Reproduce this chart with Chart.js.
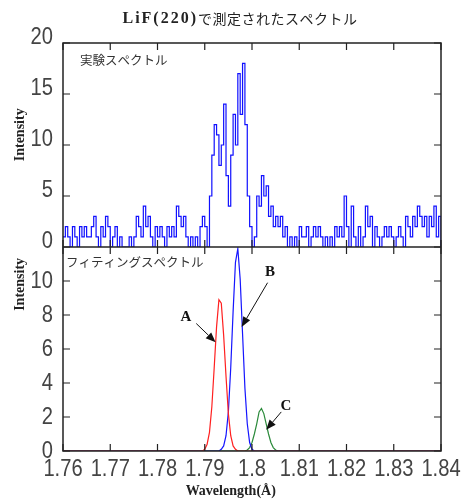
<!DOCTYPE html>
<html>
<head>
<meta charset="utf-8">
<script src="https://cdn.jsdelivr.net/npm/chart.js@4"></script>
<style>
html, body { margin: 0; padding: 0; background: #fff; }
</style>
</head>
<body>
<canvas id="chart" width="462" height="502"></canvas>
<script>
// measured spectrum, one count value every 0.0005 A starting at 1.76
var expStart = 1.76;
var expStep = 0.0005;
var expCounts = [
    1, 2, 1, 0, 2, 1, 0, 2, 1, 2,
    1, 1, 2, 3, 1, 0, 2, 1, 3, 2,
    0, 1, 2, 0, 1, 0, 0, 0, 1, 0,
    1, 3, 2, 1, 4, 2, 3, 1, 0, 2,
    1, 2, 1, 0, 2, 1, 2, 1, 4, 3,
    2, 3, 1, 0, 1, 0, 1, 0, 2, 3,
    2, 0, 5, 9, 12, 11, 8, 10, 14, 7,
    4, 9, 13, 10, 17, 13, 18, 12, 5, 2,
    0, 1, 5, 4, 7, 5, 6, 3, 4, 2,
    3, 2, 3, 1, 2, 0, 1, 0, 1, 0,
    2, 1, 1, 2, 0, 1, 2, 1, 2, 1,
    0, 1, 0, 1, 0, 2, 1, 2, 1, 5,
    2, 0, 4, 1, 0, 2, 0, 1, 4, 2,
    3, 0, 2, 1, 0, 1, 2, 1, 2, 1,
    0, 1, 2, 1, 0, 3, 2, 1, 3, 2,
    4, 3, 2, 3, 1, 3, 2, 4, 1, 3,
    0
];

// fitted peaks A, B, C
var fitX = [1.76,
    1.789, 1.7895, 1.79, 1.7905, 1.791, 1.7915, 1.792, 1.7925, 1.793, 1.7935,
    1.794, 1.7945, 1.795, 1.7955, 1.796, 1.7965, 1.797, 1.7975, 1.798, 1.7985,
    1.799, 1.7995, 1.8, 1.8005, 1.801, 1.8015, 1.802, 1.8025, 1.803, 1.8035,
    1.804, 1.8045, 1.805, 1.8055, 1.806,
    1.84];
var fitA = [0,
    0, 0, 0.1, 0.4, 1.1, 2.6, 4.9, 7.3, 8.9, 8.7,
    6.8, 4.4, 2.2, 0.9, 0.3, 0.1, 0, 0, 0, 0,
    0, 0, 0, 0, 0, 0, 0, 0, 0, 0,
    0, 0, 0, 0, 0,
    0];
var fitB = [0,
    0, 0, 0, 0, 0, 0, 0, 0, 0, 0.1,
    0.3, 0.9, 2.3, 4.9, 8.2, 11.1, 11.9, 10.1, 6.9, 3.7,
    1.6, 0.5, 0.1, 0, 0, 0, 0, 0, 0, 0,
    0, 0, 0, 0, 0,
    0];
var fitC = [0,
    0, 0, 0, 0, 0, 0, 0, 0, 0, 0,
    0, 0, 0, 0, 0, 0, 0, 0, 0, 0,
    0.06, 0.2, 0.5, 1.0, 1.6, 2.3, 2.5, 2.2, 1.6, 1.0,
    0.5, 0.2, 0.06, 0, 0,
    0];

var xTickValues = [1.76, 1.77, 1.78, 1.79, 1.8, 1.81, 1.82, 1.83, 1.84];
var xTickLabels = ['1.76', '1.77', '1.78', '1.79', '1.8', '1.81', '1.82', '1.83', '1.84'];
var topTickValues = [0, 5, 10, 15, 20];
var bottomTickValues = [0, 2, 4, 6, 8, 10, 12];
var bottomTickLabels = ['0', '2', '4', '6', '8', '10', ''];

var numFont = "'Liberation Sans', Arial, sans-serif";
var serif = "'Liberation Serif', 'DejaVu Serif', serif";
var jpFont = "'Noto Sans CJK JP', sans-serif";

function toPoints(xs, ys) {
    return ys.map(function (v, i) { return { x: xs[i], y: v }; });
}

var expPoints = expCounts.map(function (v, i) {
    return { x: expStart + i * expStep, y: v };
});

function setTicks(values) {
    return function (scale) {
        scale.ticks = values.map(function (v) { return { value: v }; });
    };
}

function drawArrow(ctx, x0, y0, x1, y1) {
    var ang = Math.atan2(y1 - y0, x1 - x0);
    var len = 10, half = 4;
    var bx = x1 - len * Math.cos(ang), by = y1 - len * Math.sin(ang);
    ctx.beginPath();
    ctx.moveTo(x0, y0);
    ctx.lineTo(bx, by);
    ctx.stroke();
    ctx.beginPath();
    ctx.moveTo(x1, y1);
    ctx.lineTo(bx + half * Math.sin(ang), by - half * Math.cos(ang));
    ctx.lineTo(bx - half * Math.sin(ang), by + half * Math.cos(ang));
    ctx.closePath();
    ctx.fill();
}

// narrow tick numbers (the original uses a condensed face)
function narrowText(ctx, text, x, y, align) {
    ctx.save();
    ctx.translate(x, y);
    ctx.scale(0.84, 1);
    ctx.textAlign = align;
    ctx.fillText(text, 0, 0);
    ctx.restore();
}

// labels A/B/C with arrow tail and tip, in data units of the lower panel
var peakNotes = [
    { text: 'A', at: [1.7860, 7.9], tail: [1.7882, 7.5], tip: [1.7923, 6.4] },
    { text: 'B', at: [1.8038, 10.5], tail: [1.8033, 9.9], tip: [1.7978, 7.3] },
    { text: 'C', at: [1.8072, 2.65], tail: [1.8062, 2.3], tip: [1.8030, 1.25] }
];

var framePlugin = {
    id: 'frame',
    afterDraw: function (chart) {
        var ctx = chart.ctx;
        var a = chart.chartArea;
        var sx = chart.scales.x, yT = chart.scales.yTop, yB = chart.scales.yBot;
        var mid = yB.top;
        var tl = 7;
        ctx.save();
        ctx.strokeStyle = '#222';
        ctx.lineWidth = 1.5;
        ctx.strokeRect(a.left, a.top, a.right - a.left, a.bottom - a.top);
        ctx.beginPath();
        ctx.moveTo(a.left, mid);
        ctx.lineTo(a.right, mid);
        ctx.stroke();

        // inward ticks
        ctx.lineWidth = 1.2;
        ctx.beginPath();
        xTickValues.forEach(function (v) {
            var px = sx.getPixelForValue(v);
            ctx.moveTo(px, a.top); ctx.lineTo(px, a.top + tl);
            ctx.moveTo(px, mid); ctx.lineTo(px, mid - tl);
            ctx.moveTo(px, mid); ctx.lineTo(px, mid + tl);
            ctx.moveTo(px, a.bottom); ctx.lineTo(px, a.bottom - tl);
        });
        topTickValues.forEach(function (v) {
            var py = yT.getPixelForValue(v);
            ctx.moveTo(a.left, py); ctx.lineTo(a.left + tl, py);
            ctx.moveTo(a.right, py); ctx.lineTo(a.right - tl, py);
        });
        bottomTickValues.forEach(function (v) {
            var py = yB.getPixelForValue(v);
            ctx.moveTo(a.left, py); ctx.lineTo(a.left + tl, py);
            ctx.moveTo(a.right, py); ctx.lineTo(a.right - tl, py);
        });
        ctx.stroke();

        // tick numbers
        ctx.fillStyle = '#444';
        ctx.font = '24px ' + numFont;
        ctx.textBaseline = 'middle';
        xTickValues.forEach(function (v, i) {
            narrowText(ctx, xTickLabels[i], sx.getPixelForValue(v), a.bottom + 18, 'center');
        });
        topTickValues.forEach(function (v) {
            narrowText(ctx, String(v), a.left - 10, yT.getPixelForValue(v) - 6, 'right');
        });
        bottomTickValues.forEach(function (v, i) {
            narrowText(ctx, bottomTickLabels[i], a.left - 10, yB.getPixelForValue(v), 'right');
        });

        // title
        var t1 = 'LiF(220)', t2 = 'で測定されたスペクトル';
        ctx.fillStyle = '#222';
        ctx.textAlign = 'left';
        ctx.font = 'bold 16px ' + serif;
        ctx.letterSpacing = '2px';
        var w1 = ctx.measureText(t1).width;
        ctx.font = '14px ' + jpFont;
        ctx.letterSpacing = '0.5px';
        var w2 = ctx.measureText(t2).width;
        var tx = 240 - (w1 + w2) / 2;
        ctx.font = 'bold 16px ' + serif;
        ctx.letterSpacing = '2px';
        ctx.fillText(t1, tx, 19);
        ctx.font = '14px ' + jpFont;
        ctx.letterSpacing = '0.5px';
        ctx.fillText(t2, tx + w1, 19);
        ctx.letterSpacing = '0px';

        // panel captions
        ctx.font = '12.5px ' + jpFont;
        ctx.fillStyle = '#333';
        ctx.fillText('実験スペクトル', a.left + 17, yT.top + 17);
        ctx.fillText('フィティングスペクトル', a.left + 3, mid + 15);

        // axis titles
        ctx.fillStyle = '#222';
        ctx.font = 'bold 14px ' + serif;
        ctx.textAlign = 'center';
        ctx.save();
        ctx.translate(20, yT.getPixelForValue(11));
        ctx.rotate(-Math.PI / 2);
        ctx.fillText('Intensity', 0, 0);
        ctx.restore();
        ctx.save();
        ctx.translate(20, yB.getPixelForValue(9.8));
        ctx.rotate(-Math.PI / 2);
        ctx.fillText('Intensity', 0, 0);
        ctx.restore();
        ctx.fillText('Wavelength(Å)', sx.getPixelForValue(1.7955), 491);

        // peak labels and arrows
        ctx.font = 'bold 15px ' + serif;
        ctx.fillStyle = '#111';
        ctx.strokeStyle = '#111';
        ctx.lineWidth = 1;
        peakNotes.forEach(function (n) {
            ctx.fillText(n.text, sx.getPixelForValue(n.at[0]), yB.getPixelForValue(n.at[1]));
            drawArrow(ctx,
                sx.getPixelForValue(n.tail[0]), yB.getPixelForValue(n.tail[1]),
                sx.getPixelForValue(n.tip[0]), yB.getPixelForValue(n.tip[1]));
        });
        ctx.restore();
    }
};

var hiddenTicks = { display: false };

new Chart(document.getElementById('chart'), {
    type: 'line',
    data: {
        datasets: [
            {
                label: '実験スペクトル',
                data: expPoints,
                yAxisID: 'yTop',
                borderColor: '#1010ff',
                borderWidth: 1.2,
                pointRadius: 0,
                stepped: true,
                fill: false
            },
            {
                label: 'A',
                data: toPoints(fitX, fitA),
                yAxisID: 'yBot',
                borderColor: '#ff2020',
                borderWidth: 1.2,
                pointRadius: 0,
                fill: false
            },
            {
                label: 'B',
                data: toPoints(fitX, fitB),
                yAxisID: 'yBot',
                borderColor: '#1515ff',
                borderWidth: 1.2,
                pointRadius: 0,
                fill: false
            },
            {
                label: 'C',
                data: toPoints(fitX, fitC),
                yAxisID: 'yBot',
                borderColor: '#2a8a3a',
                borderWidth: 1.2,
                pointRadius: 0,
                fill: false
            }
        ]
    },
    options: {
        responsive: false,
        animation: false,
        layout: { padding: { top: 43, right: 21, left: 0, bottom: 0 } },
        plugins: {
            legend: { display: false },
            title: { display: false },
            tooltip: { enabled: false }
        },
        scales: {
            x: {
                type: 'linear',
                min: 1.76,
                max: 1.84,
                afterBuildTicks: setTicks(xTickValues),
                afterFit: function (s) { s.height = 51; },
                grid: { display: false, drawTicks: false },
                border: { display: false },
                ticks: hiddenTicks
            },
            yBot: {
                type: 'linear',
                position: 'left',
                stack: 'panels',
                stackWeight: 1,
                min: 0,
                max: 12,
                afterBuildTicks: setTicks(bottomTickValues),
                afterFit: function (s) { s.width = 63; },
                grid: { display: false, drawTicks: false },
                border: { display: false },
                ticks: hiddenTicks
            },
            yTop: {
                type: 'linear',
                position: 'left',
                stack: 'panels',
                stackWeight: 1,
                min: 0,
                max: 20,
                afterBuildTicks: setTicks(topTickValues),
                afterFit: function (s) { s.width = 63; },
                grid: { display: false, drawTicks: false },
                border: { display: false },
                ticks: hiddenTicks
            }
        }
    },
    plugins: [framePlugin]
});
</script>
</body>
</html>
